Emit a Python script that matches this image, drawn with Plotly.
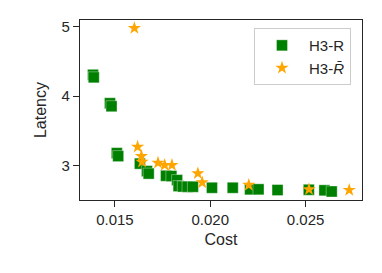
import plotly.graph_objects as go

# H3-R (green squares)
r_cost = [0.01385, 0.01389, 0.01474, 0.01482, 0.01510, 0.01517, 0.01631, 0.01668, 0.01677,
          0.01768, 0.01796, 0.01826, 0.01834, 0.01856, 0.01881, 0.01909, 0.02009, 0.02118,
          0.02209, 0.02253, 0.02353, 0.02517, 0.02599, 0.02637]
r_lat = [4.306, 4.270, 3.898, 3.855, 3.182, 3.139, 3.031, 2.924, 2.888,
         2.857, 2.853, 2.795, 2.709, 2.702, 2.699, 2.699, 2.685, 2.685,
         2.662, 2.662, 2.652, 2.656, 2.648, 2.631]

# H3-R-bar (orange stars)
rb_cost = [0.01602, 0.01619, 0.01639, 0.01642, 0.01726, 0.01761, 0.01799, 0.01935,
           0.01958, 0.02202, 0.02518, 0.02729]
rb_lat = [4.976, 3.272, 3.139, 3.057, 3.043, 3.010, 3.010, 2.891,
          2.760, 2.724, 2.662, 2.652]

x_ticks = [0.015, 0.020, 0.025]
x_tick_labels = ["0.015", "0.020", "0.025"]
y_ticks = [3, 4, 5]
y_tick_labels = ["3", "4", "5"]

FONT = "Liberation Sans, Arial, sans-serif"
DARK = "#262626"

fig = go.Figure()
fig.add_trace(go.Scatter(
    x=r_cost, y=r_lat, mode="markers", name="H3-R",
    marker=dict(symbol="square", size=11, color="green",
                line=dict(width=0.6, color="rgba(255,255,255,0.6)")),
))
fig.add_trace(go.Scatter(
    x=rb_cost, y=rb_lat, mode="markers", name="H3-<i>R\u0304</i>",
    marker=dict(symbol="star", size=10, color="orange", line=dict(width=0)),
))

axis_common = dict(
    showline=True, linecolor=DARK, linewidth=1.25, mirror=True,
    ticks="outside", ticklen=6, tickwidth=1.25, tickcolor=DARK,
    showgrid=False, zeroline=False, automargin=False,
    tickfont=dict(family=FONT, size=15, color=DARK),
)

fig.update_layout(
    width=382, height=273,
    margin=dict(l=80, r=20, t=20, b=73, autoexpand=False),
    paper_bgcolor="white", plot_bgcolor="white",
    font=dict(family=FONT, size=15, color=DARK),
    showlegend=True,
    legend=dict(
        x=0.617, y=0.955, xanchor="left", yanchor="top",
        bgcolor="rgba(255,255,255,0.8)", bordercolor="#cccccc", borderwidth=1,
        font=dict(family=FONT, size=15, color=DARK),
        itemwidth=44, itemsizing="trace",
    ),
    xaxis=dict(
        range=[0.013168, 0.02796],
        tickvals=x_ticks, ticktext=x_tick_labels,
        title=dict(text="Cost", font=dict(family=FONT, size=16, color=DARK), standoff=6),
        **axis_common,
    ),
    yaxis=dict(
        range=[2.509, 5.093],
        tickvals=y_ticks, ticktext=y_tick_labels,
        title=dict(text="Latency", font=dict(family=FONT, size=16, color=DARK), standoff=10),
        **axis_common,
    ),
)

fig.write_html("out.html", config={"displayModeBar": False},
               post_script="document.body.style.margin='0';")
